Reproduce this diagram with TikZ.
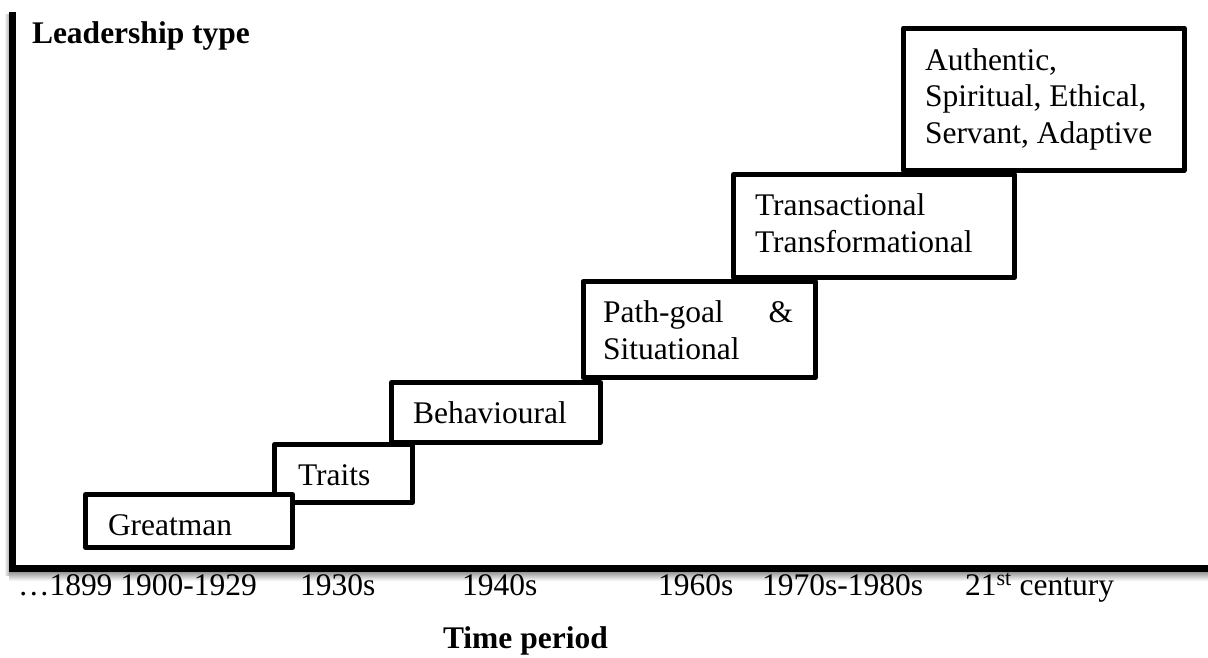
\documentclass[tikz,border=0pt]{standalone}
\usepackage{fontspec}
\setmainfont{Liberation Serif}
\begin{document}
\begin{tikzpicture}[x=1pt,y=-1pt,
  stage/.style={draw=black, fill=white, line width=5pt, line join=round,
    rectangle, inner sep=0pt, outer sep=0pt, anchor=north west},
  lbl/.style={anchor=base west, inner sep=0pt, outer sep=0pt, align=left,
    font=\fontsize{31.5}{36.5}\selectfont},
  title/.style={lbl, font=\fontsize{31.5}{36.5}\selectfont\bfseries},
  axisline/.style={line width=7pt, line join=miter}]
\useasboundingbox (0,0) rectangle (1208,657);

% soft shadow under the axes
\shade[top color=black!45, bottom color=white] (9,571) rectangle (1208,581);
\shade[left color=white, right color=black!30] (4,14) rectangle (9,575);

% axes
\coordinate (ytop) at (12.5,12);
\coordinate (xend) at (1208,568);
\draw[axisline] (ytop) |- (xend);

% stages, highest first so that each lower box lies on top
\node[stage, minimum width=280.5pt, minimum height=142.5pt] (authentic) at (903.5,28) {};
\node[stage, minimum width=281pt, minimum height=103pt] (transact) at (733.5,174.5) {};
\node[stage, minimum width=232.5pt, minimum height=96pt] (pathgoal) at (583,281.5) {};
\node[stage, minimum width=209pt, minimum height=60pt] (behav) at (391.5,382.5) {};
\node[stage, minimum width=138pt, minimum height=58pt] (traits) at (274.5,444.5) {};
\node[stage, minimum width=207pt, minimum height=53pt] (greatman) at (85.5,494.5) {};

% stage labels (multi-line labels are placed by their last baseline)
\node[lbl] (tgreat) at (108,535) {Greatman};
\node[lbl] (ttraits) at (298,485) {Traits};
\node[lbl] (tbehav) at (413,423) {Behavioural};
\node[lbl] (tpath) at (603,359) {\makebox[190pt][l]{Path-goal\hfill\&}\\Situational};
\node[lbl] (ttrans) at (755,252) {Transactional\\Transformational};
\node[lbl] (tauth) at (925,143) {Authentic,\\Spiritual, Ethical,\\Servant, Adaptive};

% axis titles
\node[title] (ytitle) at (32,43) {Leadership type};
\node[title] (xtitle) at (443,648) {Time period};

% time periods
\node[lbl] (p1) at (18,595) {…1899 1900-1929};
\node[lbl] (p2) at (300,595) {1930s};
\node[lbl] (p3) at (462,595) {1940s};
\node[lbl] (p4) at (658,595) {1960s};
\node[lbl] (p5) at (762,595) {1970s-1980s};
\node[lbl] (p6) at (965,595) {21\textsuperscript{st} century};
\end{tikzpicture}
\end{document}
